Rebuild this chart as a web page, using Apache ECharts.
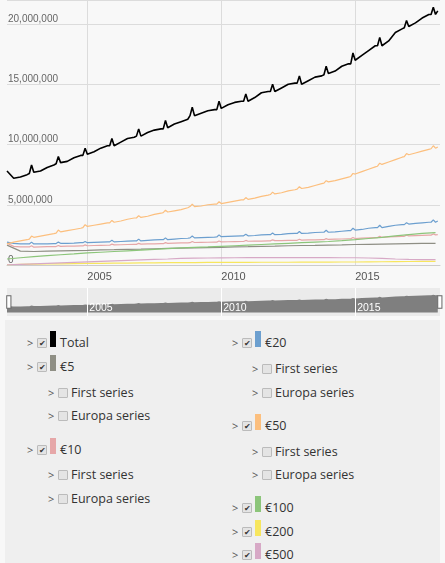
<!DOCTYPE html>
<html><head><meta charset="utf-8">
<script src="https://cdn.jsdelivr.net/npm/echarts@6/dist/echarts.min.js"></script>
<style>
body{margin:0;background:#f8f8f8;font-family:"Open Sans",sans-serif;width:445px;height:563px;overflow:hidden;position:relative}
#c{position:absolute;left:0;top:0;width:445px;height:320px}
#lg{position:absolute;left:5px;top:320px;width:435px;height:243px;background:#efefef}
.r{position:absolute;font-size:12.5px;color:#333;height:18px;line-height:18px;white-space:nowrap}
.ar{position:absolute;top:0;color:#555;font-size:11px}
.cb{position:absolute;top:4px;width:8px;height:8px;border:1px solid #bbb;background:#e4e4e4;border-radius:1px;font-size:8px;line-height:8px;text-align:center;color:#333}
.sw{position:absolute;top:-3px;width:6px;height:16px}
</style></head><body>
<div id="c"></div><div id="lg"></div>
<script>
const years=[2002,2003,2004,2005,2006,2007,2008,2009,2010,2011,2012,2013,2014,2015,2016,2017];
const fineMonths=[1,4,7,10,11,12];
const coarseMonths=[1,7];
const tickYears=[2005,2010,2015];
// values in millions; each year: Jan,Apr,Jul,Oct,Nov,Dec ; then 2018 Jan,Feb
const total=[7.8,7.2,7.3,7.5,7.6,8.3, 7.7,7.8,8.1,8.3,8.4,9.0, 8.5,8.6,8.9,9.1,9.1,9.7, 9.2,9.4,9.7,9.9,9.9,10.5, 9.9,10.2,10.5,10.6,10.7,11.3, 10.7,11.0,11.2,11.3,11.3,12.0, 11.4,11.7,11.9,12.1,12.4,13.1, 12.4,12.6,12.8,12.9,12.9,13.6, 13.0,13.3,13.5,13.6,13.6,14.2, 13.6,13.9,14.3,14.4,14.4,15.0, 14.4,14.7,15.0,15.1,15.1,15.7, 15.0,15.3,15.6,15.7,15.8,16.5, 15.9,16.1,16.5,16.7,16.7,17.6, 17.0,17.4,17.8,18.2,18.2,18.9, 18.2,18.6,19.3,19.6,19.7,20.3, 19.8,20.1,20.5,20.8,20.8,21.4, 20.8,21.1];
const e50=[1.75,1.9,2.0,2.1,2.15,2.4, 2.3,2.4,2.5,2.6,2.65,2.9, 2.75,2.85,2.95,3.05,3.1,3.35, 3.2,3.3,3.4,3.5,3.5,3.7, 3.55,3.65,3.8,3.9,3.9,4.1, 3.95,4.05,4.2,4.3,4.35,4.55, 4.4,4.5,4.6,4.75,4.85,5.05, 4.85,4.9,5.0,5.05,5.05,5.25, 5.1,5.2,5.3,5.4,5.4,5.6, 5.45,5.55,5.7,5.8,5.85,6.05, 5.9,6.0,6.15,6.25,6.3,6.5, 6.35,6.45,6.6,6.75,6.8,7.0, 6.9,7.0,7.15,7.3,7.35,7.6, 7.55,7.75,7.95,8.15,8.2,8.45, 8.35,8.55,8.75,8.95,9.0,9.25, 9.15,9.3,9.45,9.6,9.65,9.9, 9.7,9.8];
const e20=[1.9,1.8,1.75,1.75,1.75,1.9, 1.75,1.75,1.75,1.78,1.78,1.9, 1.8,1.8,1.82,1.85,1.85,1.95, 1.85,1.88,1.9,1.92,1.92,2.05, 1.92,1.95,1.98,2.0,2.0,2.15, 2.0,2.05,2.08,2.1,2.1,2.25, 2.1,2.15,2.2,2.22,2.25,2.4, 2.25,2.28,2.3,2.32,2.33,2.5, 2.35,2.38,2.4,2.42,2.42,2.55, 2.42,2.45,2.5,2.52,2.52,2.65, 2.52,2.55,2.6,2.62,2.62,2.78, 2.62,2.65,2.7,2.72,2.72,2.88, 2.72,2.75,2.8,2.85,2.85,3.05, 2.9,2.95,3.05,3.1,3.1,3.3, 3.1,3.2,3.3,3.35,3.35,3.5, 3.4,3.45,3.5,3.55,3.55,3.75, 3.55,3.65];
const e10=[1.8,1.55,1.5,1.5,1.5,1.6, 1.48,1.5,1.52,1.53,1.53,1.62, 1.55,1.56,1.57,1.58,1.58,1.67, 1.6,1.62,1.63,1.64,1.64,1.73, 1.67,1.68,1.7,1.71,1.71,1.8, 1.73,1.75,1.76,1.77,1.77,1.86, 1.8,1.82,1.83,1.84,1.85,1.95, 1.87,1.88,1.89,1.9,1.9,1.99, 1.92,1.93,1.94,1.95,1.95,2.04, 1.97,1.98,1.99,2.0,2.0,2.09, 2.02,2.03,2.04,2.05,2.05,2.14, 2.07,2.08,2.09,2.1,2.1,2.19, 2.12,2.14,2.16,2.18,2.18,2.28, 2.2,2.23,2.26,2.28,2.28,2.38, 2.3,2.33,2.36,2.38,2.38,2.48, 2.42,2.44,2.46,2.48,2.48,2.58, 2.5,2.52];
// coarse series: each year Jan,Jul ; then 2018 Jan
const e5=[1.65,1.15, 1.12,1.15, 1.18,1.2, 1.22,1.25, 1.27,1.3, 1.32,1.35, 1.38,1.4, 1.42,1.45, 1.47,1.5, 1.52,1.55, 1.57,1.6, 1.62,1.63, 1.65,1.67, 1.7,1.72, 1.74,1.76, 1.78,1.8, 1.8];
const e100=[0.5,0.6, 0.7,0.78, 0.85,0.92, 1.0,1.06, 1.12,1.18, 1.24,1.3, 1.36,1.42, 1.46,1.5, 1.55,1.6, 1.65,1.7, 1.75,1.8, 1.85,1.9, 1.95,2.02, 2.1,2.2, 2.3,2.42, 2.52,2.62, 2.68];
const e200=[0.02,0.05, 0.07,0.09, 0.1,0.12, 0.13,0.14, 0.15,0.16, 0.17,0.18, 0.19,0.2, 0.2,0.21, 0.21,0.22, 0.22,0.23, 0.23,0.23, 0.24,0.24, 0.24,0.25, 0.25,0.26, 0.27,0.28, 0.29,0.3, 0.3];
const e500=[0.02,0.06, 0.1,0.14, 0.18,0.22, 0.26,0.3, 0.34,0.38, 0.42,0.46, 0.5,0.55, 0.57,0.58, 0.59,0.6, 0.61,0.62, 0.62,0.62, 0.61,0.61, 0.61,0.6, 0.6,0.58, 0.55,0.5, 0.47,0.45, 0.45];

// x positions as decimal years (year + (month-1)/12)
function dates(months,extra){const d=[];years.forEach(y=>months.forEach(m=>d.push(y+(m-1)/12)));extra.forEach(e=>d.push(e));return d;}
const fineDates=dates(fineMonths,[2018,2018+1/12]);
const coarseDates=dates(coarseMonths,[2018]);
const pair=(ds,vs)=>vs.map((v,i)=>[ds[i],v]);

const defs=[['Total',total,'#000000',fineDates,1.6],['€5',e5,'#8f8f85',coarseDates,1.2],['€10',e10,'#e6a7a8',fineDates,1.2],['€20',e20,'#6c9fcf',fineDates,1.2],['€50',e50,'#fcbf7e',fineDates,1.2],['€100',e100,'#8cc57a',coarseDates,1.2],['€200',e200,'#f7e65e',coarseDates,1.2],['€500',e500,'#d7a9c6',coarseDates,1.2]];
const series=defs.map(d=>({name:d[0],type:'line',data:pair(d[3],d[1]),showSymbol:false,lineStyle:{color:d[2],width:d[4]},itemStyle:{color:d[2]},z:d[0]==='Total'?5:3,animation:false}));
series.push({type:'line',xAxisIndex:1,yAxisIndex:1,data:pair(fineDates,total),showSymbol:false,lineStyle:{width:0},areaStyle:{color:'#7f7f7f',opacity:1},animation:false,silent:true,z:1});

const XMIN=2002, XMAX=2018+2/12;
const ch=echarts.init(document.getElementById('c'));
ch.setOption({
 backgroundColor:'transparent',
 grid:[{left:7,right:5,top:0,bottom:55},{left:7,right:5,top:288,height:28,show:true,backgroundColor:'#ebebeb',borderWidth:0}],
 xAxis:[{type:'value',min:XMIN,max:XMAX,axisLine:{lineStyle:{color:'#ccc'}},
   axisTick:{show:false,customValues:tickYears},
   splitLine:{show:true,lineStyle:{color:'#dcdcdc'}},axisLabel:{customValues:tickYears,color:'#555',fontSize:11,align:'left',margin:6,formatter:v=>String(v)}},
  {type:'value',gridIndex:1,min:XMIN,max:XMAX,z:10,axisLine:{show:false},axisTick:{show:false,customValues:tickYears},splitLine:{show:true,lineStyle:{color:'#ffffff',width:1}},
   axisLabel:{customValues:tickYears,inside:false,color:'#ffffff',fontSize:10.5,align:'left',verticalAlign:'bottom',margin:-2,padding:[0,0,0,2],formatter:v=>String(v)}}],
 yAxis:[{type:'value',min:0,max:22,interval:5,axisLine:{show:false},axisTick:{show:false},splitLine:{lineStyle:{color:'#dcdcdc'}},
   axisLabel:{inside:true,showMaxLabel:false,verticalAlign:'bottom',color:'#666',fontSize:10,margin:1,formatter:v=>(v*1e6).toLocaleString('en-US')}},
  {type:'value',gridIndex:1,min:-4.3,max:29.6,show:false}],
 dataZoom:[{type:'slider',xAxisIndex:[0],left:7,right:5,top:288,height:28,showDataShadow:false,showDetail:false,backgroundColor:'transparent',borderColor:'transparent',fillerColor:'rgba(0,0,0,0)',
   handleIcon:'path://M0,0 L4,0 L4,12 L0,12 Z',handleSize:'45%',handleStyle:{color:'#fff',borderColor:'#666'},moveHandleSize:0,brushSelect:false,start:0,end:100,filterMode:'none'}],
 series
});

const rows=[
 [27,343,'Total','#000',true],[27,367,'€5','#8f8f85',true],[48,393,'First series',null,false],[48,416,'Europa series',null,false],
 [27,450,'€10','#e6a7a8',true],[48,475,'First series',null,false],[48,499,'Europa series',null,false],
 [232,343,'€20','#6c9fcf',true],[252,369,'First series',null,false],[252,393,'Europa series',null,false],
 [232,426,'€50','#fcbf7e',true],[252,452,'First series',null,false],[252,475,'Europa series',null,false],
 [232,508,'€100','#8cc57a',true],[232,532,'€200','#f7e65e',true],[232,555,'€500','#d7a9c6',true]];
const lg=document.getElementById('lg');
rows.forEach(([x,y,t,c,chk])=>{
 const d=document.createElement('div');d.className='r';d.style.left=(x-5)+'px';d.style.top=(y-320-9)+'px';
 let h='<span class="ar" style="left:0">&gt;</span><span class="cb" style="left:10px">'+(chk?'✔':'')+'</span>';
 if(c){h+='<span class="sw" style="left:23px;background:'+c+'"></span><span style="position:absolute;left:33px">'+t+'</span>';}
 else h+='<span style="position:absolute;left:23px">'+t+'</span>';
 d.innerHTML=h;lg.appendChild(d);
});
</script></body></html>
